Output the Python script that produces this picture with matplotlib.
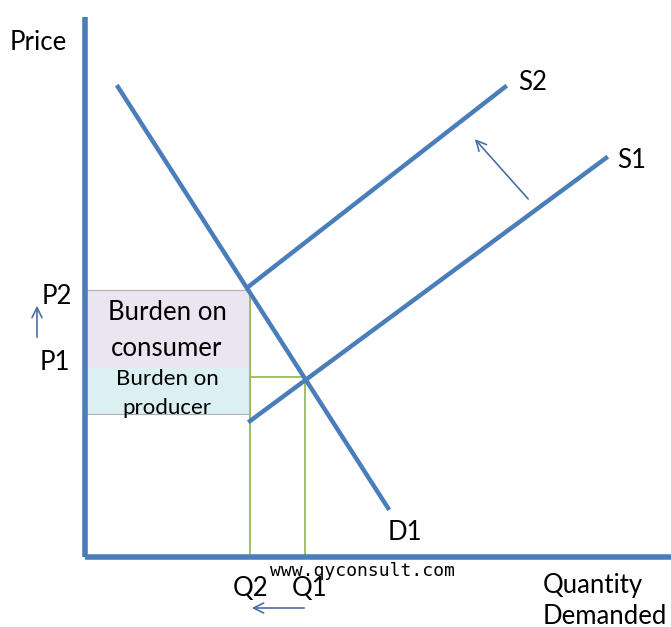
import matplotlib.pyplot as plt
from matplotlib.patches import Rectangle

# coordinates: units measured from the origin of the diagram axes
demand_x = [33, 303]
demand_y = [470, 49]
s1_x = [165, 521]
s1_y = [136, 399]
s2_x = [163, 420]
s2_y = [270, 470]

q1, q2 = 220, 165
p1, p2 = 180, 267
split = 189          # border between consumer and producer burden
box_bottom = 143

blue = '#4a7ebb'
green = '#9bbb59'
font = ['Lato', 'DejaVu Sans']

fig = plt.figure(figsize=(6.71, 6.27), dpi=100)
ax = fig.add_axes([0, 0, 1, 1])
ax.set_xlim(-85, 586)
ax.set_ylim(-70, 557)
ax.axis('off')

# burden boxes
ax.add_patch(Rectangle((0, split), q2, p2 - split, facecolor='#ebe4f1',
                       edgecolor='none', zorder=1))
ax.add_patch(Rectangle((0, box_bottom), q2, split - box_bottom, facecolor='#dcf0f4',
                       edgecolor='none', zorder=1))
ax.add_patch(Rectangle((0, box_bottom), q2, p2 - box_bottom, facecolor='none',
                       edgecolor='#b0b0b0', lw=0.8, zorder=2))

# guide lines
ax.plot([q2, q2], [0, p2], color=green, lw=1.3, zorder=2)
ax.plot([q1, q1], [0, p1], color=green, lw=1.3, zorder=2)
ax.plot([q2, q1], [p1, p1], color=green, lw=1.3, zorder=2)

# curves
ax.plot(demand_x, demand_y, color=blue, lw=3.2, zorder=3)
ax.plot(s1_x, s1_y, color=blue, lw=3.2, zorder=3)
ax.plot(s2_x, s2_y, color=blue, lw=3.2, zorder=3)

# axes
ax.plot([0, 0], [0, 540], color=blue, lw=4, zorder=4, solid_capstyle='butt')
ax.plot([0, 586], [0, 0], color=blue, lw=4, zorder=4, solid_capstyle='butt')

# arrows
arrow = dict(arrowstyle='->', color='#4a6fa8', lw=1.2, mutation_scale=18)
ax.annotate('', xy=(388, 420), xytext=(445, 356), arrowprops=arrow)
ax.annotate('', xy=(-48, 254), xytext=(-48, 217), arrowprops=arrow)
ax.annotate('', xy=(164, -51), xytext=(222, -51), arrowprops=arrow)

fs = 18.5
ax.text(-75, 515, 'Price', fontsize=fs, family=font, va='center')
ax.text(-43, 261, 'P2', fontsize=fs, family=font, va='center')
ax.text(-45, 195, 'P1', fontsize=fs, family=font, va='center')
ax.text(433, 475, 'S2', fontsize=fs, family=font, va='center')
ax.text(532, 397, 'S1', fontsize=fs, family=font, va='center')
ax.text(303, 24, 'D1', fontsize=fs, family=font, va='center')
ax.text(166, -31, 'Q2', fontsize=fs, family=font, va='center', ha='center')
ax.text(225, -31, 'Q1', fontsize=fs, family=font, va='center', ha='center')
ax.text(458, -29, 'Quantity', fontsize=fs, family=font, va='center')
ax.text(458, -59, 'Demanded', fontsize=fs, family=font, va='center')
ax.text(82, 245, 'Burden on', fontsize=fs, family=font, va='center', ha='center')
ax.text(82, 209, 'consumer', fontsize=fs, family=font, va='center', ha='center')
ax.text(82, 178, 'Burden on', fontsize=16, family=font, va='center', ha='center')
ax.text(82, 149, 'producer', fontsize=16, family=font, va='center', ha='center')
ax.text(185, -14, 'www.qyconsult.com', fontsize=13, family='DejaVu Sans Mono',
        va='center')

fig.savefig('out.png', dpi=100)
